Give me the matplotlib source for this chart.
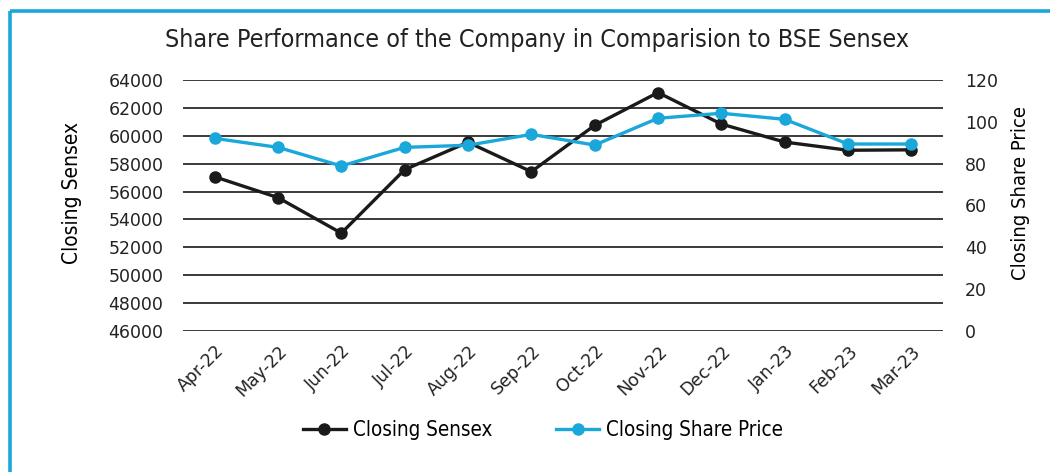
import matplotlib.pyplot as plt
from matplotlib import font_manager
from matplotlib.lines import Line2D

months = ["Apr-22", "May-22", "Jun-22", "Jul-22", "Aug-22", "Sep-22",
          "Oct-22", "Nov-22", "Dec-22", "Jan-23", "Feb-23", "Mar-23"]
sensex = [57060, 55566, 53019, 57570, 59537, 57427,
          60747, 63100, 60841, 59550, 58962, 58992]
share_price = [92.1, 87.8, 78.9, 87.8, 88.8, 94.0,
               88.9, 101.7, 104.1, 101.2, 89.4, 89.4]

BLUE = "#1aa7da"
BLACK = "#1a1a1a"


def narrow_font():
    '''
    Look for a condensed sans font, fall back to DejaVu Sans
    '''
    found = []
    for f in font_manager.fontManager.ttflist:
        name = f.fname.lower()
        if ("narrow" in name or "condensed" in name) and "bold" not in name \
                and "italic" not in name and "oblique" not in name and "mono" not in name:
            found.append(f.fname)
    found.sort(key=lambda p: ("liberation" not in p.lower(), p))
    if found:
        return found[0]
    return None


def main():
    path = narrow_font()

    def fp(size):
        if path:
            return font_manager.FontProperties(fname=path, size=size)
        return font_manager.FontProperties(family="DejaVu Sans", size=size * 0.8)

    fig = plt.figure(figsize=(10.5, 4.72), dpi=100)
    ax = fig.add_axes([183 / 1050, 1 - 331 / 472, 760 / 1050, 251 / 472])
    ax2 = ax.twinx()

    x = list(range(len(months)))
    ax.plot(x, sensex, color=BLACK, lw=2.4, marker="o", ms=8, zorder=3)
    ax2.plot(x, share_price, color=BLUE, lw=2.4, marker="o", ms=8, zorder=3)

    ax.set_xlim(-0.5, 11.5)
    ax.set_ylim(46000, 64000)
    ax.set_yticks(range(46000, 64001, 2000))
    ax2.set_ylim(0, 120)
    ax2.set_yticks(range(0, 121, 20))

    ax.yaxis.grid(True, color="#3a3a3a", lw=1.4)
    ax.set_axisbelow(True)
    for a in (ax, ax2):
        for s in a.spines.values():
            s.set_visible(False)
        a.tick_params(length=0, labelsize=12.5, colors="#222222")
    ax.tick_params(axis="y", pad=14)
    ax2.tick_params(axis="y", pad=16)

    ax.set_xticks(x)
    ax.set_xticklabels(months, rotation=45, ha="right", rotation_mode="anchor")
    ax.tick_params(axis="x", pad=8)

    ax.set_ylabel("Closing Sensex", fontproperties=fp(15), labelpad=19)
    ax2.set_ylabel("Closing Share Price", fontproperties=fp(14.5), labelpad=9)
    ax.yaxis.label.set_y(0.55)
    ax2.yaxis.label.set_y(0.55)

    fig.text(537 / 1050, 1 - 40 / 472,
             "Share Performance of the Company in Comparision to BSE Sensex",
             fontproperties=fp(18), ha="center", va="center", color="#222222")

    handles = [Line2D([], [], color=BLACK, lw=2.4, marker="o", ms=8),
               Line2D([], [], color=BLUE, lw=2.4, marker="o", ms=8)]
    fig.legend(handles, ["Closing Sensex", "Closing Share Price"],
               loc="center", bbox_to_anchor=(543 / 1050, 1 - 430 / 472),
               ncol=2, frameon=False, prop=fp(14.8),
               handlelength=2.1, handletextpad=0.35, columnspacing=3.1)

    # blue frame round the chart
    fig.add_artist(Line2D([10 / 1050, 1], [1 - 11 / 472] * 2, color=BLUE, lw=2.6,
                          solid_capstyle="butt"))
    fig.add_artist(Line2D([10 / 1050] * 2, [0, 1 - 11 / 472], color=BLUE, lw=2.6,
                          solid_capstyle="butt"))

    fig.savefig("out.png", dpi=100)


if __name__ == "__main__":
    main()
